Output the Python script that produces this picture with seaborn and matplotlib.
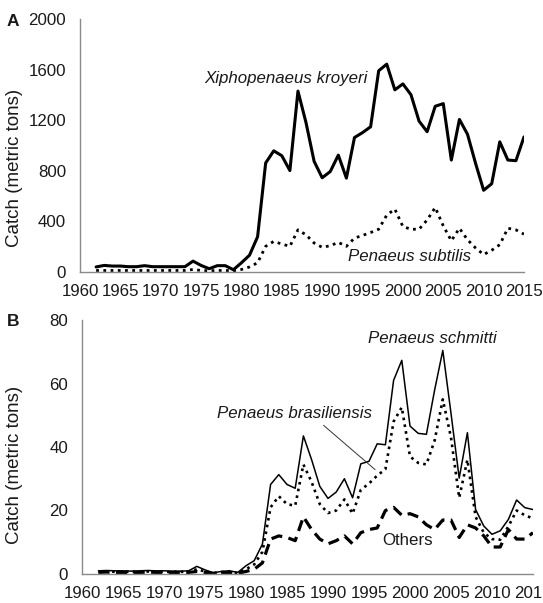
import numpy as np
import pandas as pd
import matplotlib
matplotlib.use("Agg")
import matplotlib.pyplot as plt
import seaborn as sns

years = list(range(1962, 2016))

kroyeri = [40, 52, 47, 47, 42, 42, 50, 42, 42, 42, 42, 42, 86, 52, 26, 50, 50, 18,
           73, 133, 279, 862, 958, 919, 802, 1430, 1180, 875, 745, 794, 924, 742,
           1063, 1102, 1148, 1591, 1643, 1440, 1487, 1401, 1193, 1109, 1310, 1331,
           885, 1206, 1089, 859, 646, 698, 1029, 885, 880, 1068]
subtilis = [12, 12, 12, 12, 12, 12, 12, 12, 12, 12, 12, 12, 20, 12, 10, 12, 12, 10,
            20, 40, 73, 203, 242, 221, 203, 333, 294, 229, 195, 208, 234, 203,
            268, 289, 312, 338, 450, 497, 359, 338, 338, 411, 510, 365,
            247, 346, 255, 190, 138, 172, 216, 346, 333, 299]

schmitti = [1.0, 1.1, 1.0, 1.0, 0.9, 1.0, 1.1, 1.0, 1.0, 0.9, 0.9, 1.0, 2.4, 1.3, 0.4, 0.8, 1.0, 0.5,
            2.6, 4.2, 9.4, 28.2, 31.3, 28.2, 27.0, 43.5, 36.0, 27.6, 23.8, 25.8, 30.0, 24.0,
            34.7, 35.5, 41.0, 40.7, 61.0, 67.3, 46.6, 44.3, 44.0, 57.9, 70.4, 50.6,
            30.2, 44.5, 20.3, 15.1, 12.5, 13.6, 17.2, 23.3, 20.9, 20.3]
brasiliensis = [0.7, 0.8, 0.7, 0.7, 0.7, 0.7, 0.8, 0.7, 0.7, 0.7, 0.7, 0.7, 1.5, 0.8, 0.3, 0.6, 0.7, 0.3,
                1.5, 3.0, 7.0, 21.0, 24.5, 22.0, 21.5, 34.5, 29.0, 22.0, 19.2, 20.0, 23.5, 19.0,
                26.5, 28.5, 31.0, 33.0, 48.0, 52.5, 37.0, 35.0, 34.5, 42.0, 55.0, 43.0,
                24.0, 36.0, 18.0, 13.0, 11.0, 10.8, 15.0, 20.0, 18.5, 17.5]
others = [0.5, 0.6, 0.5, 0.5, 0.5, 0.5, 0.6, 0.5, 0.5, 0.5, 0.5, 0.5, 0.8, 0.5, 0.2, 0.5, 0.5, 0.2,
          0.8, 1.5, 3.5, 11.0, 12.0, 11.5, 10.5, 18.0, 14.0, 11.0, 9.5, 10.5, 12.0, 9.5,
          13.0, 14.0, 14.5, 20.0, 21.0, 18.5, 19.0, 18.0, 15.5, 14.0, 17.0, 17.0,
          11.5, 15.5, 14.5, 12.0, 8.5, 8.5, 14.0, 11.0, 11.0, 13.0]

xticks = list(range(1960, 2016, 5))
yticks_a = [0, 400, 800, 1200, 1600, 2000]
yticks_b = [0, 20, 40, 60, 80]

sns.set_theme(style="white")
plt.rcParams["font.family"] = ["Liberation Sans", "DejaVu Sans"]
txt = "#1a1a1a"
spine_c = "#8a8a8a"
fs = 12.2

fig = plt.figure(figsize=(5.43, 6.03), dpi=100)
axA = fig.add_axes([80/543, 1-272/603, 444/543, 253/603])
axB = fig.add_axes([82/543, 1-574/603, 451/543, 254/603])

dfA = pd.DataFrame({"year": years, "kroyeri": kroyeri, "subtilis": subtilis})
dfB = pd.DataFrame({"year": years, "schmitti": schmitti,
                    "brasiliensis": brasiliensis, "others": others})

sns.lineplot(data=dfA, x="year", y="kroyeri", ax=axA, color="black", lw=2.2)
sns.lineplot(data=dfA, x="year", y="subtilis", ax=axA, color="black", lw=2.0,
             linestyle=(0, (1, 1.6)))

sns.lineplot(data=dfB, x="year", y="schmitti", ax=axB, color="black", lw=1.1)
sns.lineplot(data=dfB, x="year", y="brasiliensis", ax=axB, color="black", lw=1.9,
             linestyle=(0, (1, 1.6)))
sns.lineplot(data=dfB, x="year", y="others", ax=axB, color="black", lw=2.3,
             linestyle=(0, (3.5, 2.0)))

for ax, yt, ymax in [(axA, yticks_a, 2000), (axB, yticks_b, 80)]:
    ax.set_xlim(1960, 2015)
    ax.set_ylim(0, ymax)
    ax.set_xticks(xticks)
    ax.set_yticks(yt)
    ax.set_xlabel("")
    ax.set_ylabel("")
    for s in ["top", "right"]:
        ax.spines[s].set_visible(False)
    for s in ["left", "bottom"]:
        ax.spines[s].set_color(spine_c)
        ax.spines[s].set_linewidth(1.0)
    ax.tick_params(axis="both", direction="in", length=4, width=1.0,
                   color=spine_c, labelsize=fs, labelcolor=txt)
    ax.tick_params(axis="y", pad=10)
    ax.tick_params(axis="x", pad=9)
    ax.grid(False)
    ax.patch.set_alpha(0)

axA.set_xticklabels([str(t) for t in xticks])
axB.set_xticklabels([str(t) for t in xticks])

fig.text(15/543, 1-168/603, "Catch (metric tons)", rotation=90, ha="center",
         va="center", fontsize=13.5, color=txt)
fig.text(15/543, 1-465/603, "Catch (metric tons)", rotation=90, ha="center",
         va="center", fontsize=13.5, color=txt)
fig.text(7/543, 1-21/603, "A", fontsize=12.5, fontweight="bold", ha="left",
         va="center", color=txt)
fig.text(7/543, 1-322/603, "B", fontsize=12.5, fontweight="bold", ha="left",
         va="center", color=txt)

axA.text(1975.4, 1531, "Xiphopenaeus kroyeri", style="italic", fontsize=fs,
         ha="left", va="center", color=txt)
axA.text(1993.2, 125, "Penaeus subtilis", style="italic", fontsize=fs,
         ha="left", va="center", color=txt)

axB.text(1994.9, 74.2, "Penaeus schmitti", style="italic", fontsize=fs,
         ha="left", va="center", color=txt)
axB.text(1976.5, 50.4, "Penaeus brasiliensis", style="italic", fontsize=fs,
         ha="left", va="center", color=txt)
axB.text(1996.6, 10.7, "Others", fontsize=fs, ha="left", va="center", color=txt)
axB.annotate("", xy=(1996.0, 32.3), xytext=(1989.2, 47.4),
             arrowprops=dict(arrowstyle="-", color="#333333", lw=0.7))

fig.savefig("out.png", dpi=100, facecolor="white")
